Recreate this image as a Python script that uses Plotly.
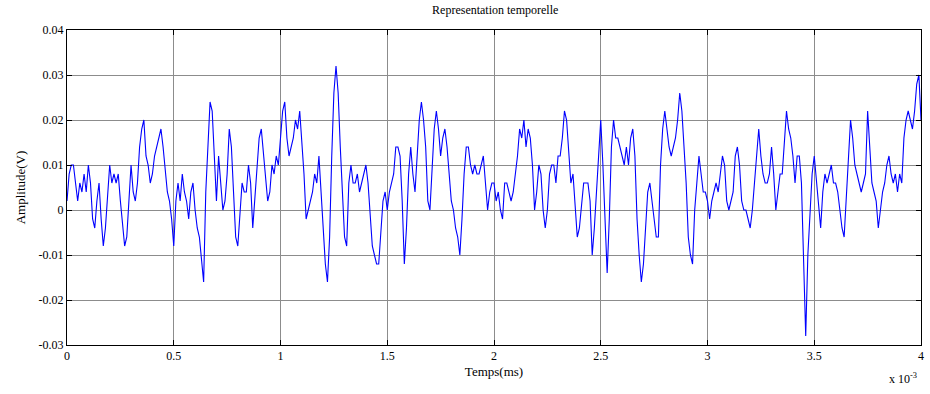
import plotly.graph_objects as go

dt = 1e-5
amp_mV = [
    2, 8, 10, 10, 6, 2, 6, 4, 8, 4,
    10, 6, -2, -4, 2, 6, -2, -8, -4, 4,
    10, 6, 8, 6, 8, 2, -4, -8, -6, 2,
    10, 4, 2, 6, 14, 18, 20, 12, 10, 6,
    8, 12, 14, 16, 18, 14, 8, 4, 2, -2,
    -8, 2, 6, 2, 8, 4, 2, -2, 4, 6,
    0, -4, -6, -12, -16, 4, 16, 24, 22, 10,
    2, 12, 6, 0, 2, 8, 18, 14, 4, -6,
    -8, -2, 6, 4, 4, 10, 6, -4, 2, 10,
    16, 18, 12, 6, 2, 4, 10, 8, 12, 10,
    16, 22, 24, 16, 12, 14, 16, 20, 18, 22,
    16, 8, -2, 0, 2, 4, 8, 6, 12, 4,
    -4, -12, -16, -6, 12, 26, 32, 26, 14, 4,
    -6, -8, 6, 10, 6, 6, 8, 4, 6, 8,
    10, 6, -2, -8, -10, -12, -12, -4, 2, 4,
    0, 4, 6, 8, 14, 14, 12, 2, -12, -4,
    8, 14, 8, 4, 12, 20, 24, 20, 14, 2,
    0, 10, 18, 22, 18, 12, 16, 18, 14, 8,
    2, 0, -4, -6, -10, -2, 8, 14, 14, 10,
    8, 10, 8, 8, 10, 12, 6, 0, 4, 6,
    6, 2, 4, 0, -2, 6, 6, 4, 2, 4,
    8, 12, 18, 16, 20, 14, 18, 16, 10, 0,
    4, 10, 8, 0, -4, 0, 8, 10, 10, 6,
    12, 12, 16, 22, 20, 12, 6, 8, 0, -6,
    -4, 2, 6, 6, 6, 2, -10, -4, 4, 12,
    20, 10, -4, -14, -2, 14, 20, 16, 16, 14,
    12, 10, 14, 10, 16, 18, 12, -2, -10, -16,
    -12, -4, 4, 6, 2, -2, -6, -6, 10, 18,
    22, 18, 14, 12, 14, 16, 20, 26, 22, 14,
    6, -6, -10, -12, 0, 6, 12, 8, 4, 4,
    2, -2, 2, 4, 6, 4, 8, 12, 10, 2,
    0, 2, 4, 12, 14, 10, 2, 0, 0, -2,
    -4, 0, 6, 14, 18, 12, 8, 6, 6, 8,
    14, 8, 0, 4, 8, 8, 16, 22, 18, 16,
    12, 6, 12, 12, 6, -12, -28, -10, 0, 8,
    12, 6, 0, -4, 4, 8, 6, 8, 10, 6,
    6, 4, 0, -4, -6, 2, 10, 20, 16, 10,
    8, 6, 4, 6, 8, 22, 14, 6, 4, 2,
    -4, 0, 4, 6, 10, 12, 8, 6, 8, 4,
    8, 6, 16, 20, 22, 20, 18, 22, 28, 30,
    20,
]
t = [i * dt for i in range(len(amp_mV))]
amp = [v / 1000.0 for v in amp_mV]

x_tickvals = [0, 0.5e-3, 1e-3, 1.5e-3, 2e-3, 2.5e-3, 3e-3, 3.5e-3, 4e-3]
x_ticktext = ["0", "0.5", "1", "1.5", "2", "2.5", "3", "3.5", "4"]
y_tickvals = [-0.03, -0.02, -0.01, 0, 0.01, 0.02, 0.03, 0.04]
y_ticktext = ["-0.03", "-0.02", "-0.01", "0", "0.01", "0.02", "0.03", "0.04"]

serif = "Liberation Serif, Times New Roman, serif"

fig = go.Figure()
fig.add_trace(go.Scatter(x=t, y=amp, mode="lines",
                         line=dict(color="#0000ff", width=1.1),
                         showlegend=False))

axis_common = dict(showline=True, linecolor="black", linewidth=1, mirror="ticks",
                   ticks="inside", ticklen=5, tickcolor="black",
                   showgrid=True, gridcolor="#8c8c8c", gridwidth=1,
                   zeroline=False, tickfont=dict(family=serif, size=12, color="black"))

fig.update_layout(
    width=930, height=394,
    margin=dict(l=67, r=6, t=30, b=49),
    paper_bgcolor="white", plot_bgcolor="white",
    title=dict(text="Representation temporelle", x=0.5325, xanchor="center",
               y=0.975, yanchor="middle",
               font=dict(family=serif, size=12, color="black")),
    xaxis=dict(range=[0, 4e-3], tickvals=x_tickvals, ticktext=x_ticktext,
               title=dict(text="Temps(ms)", font=dict(family=serif, size=13, color="black"),
                          standoff=4),
               **axis_common),
    yaxis=dict(range=[-0.03, 0.04], tickvals=y_tickvals, ticktext=y_ticktext,
               title=dict(text="Amplitude(V)", font=dict(family=serif, size=13, color="black"),
                          standoff=10),
               **axis_common),
    annotations=[dict(text="x 10<sup>-3</sup>", xref="paper", yref="paper",
                      x=0.998, y=-0.075, xanchor="right", yanchor="top",
                      showarrow=False, font=dict(family=serif, size=12, color="black"))],
)

fig.write_html("out.html")
